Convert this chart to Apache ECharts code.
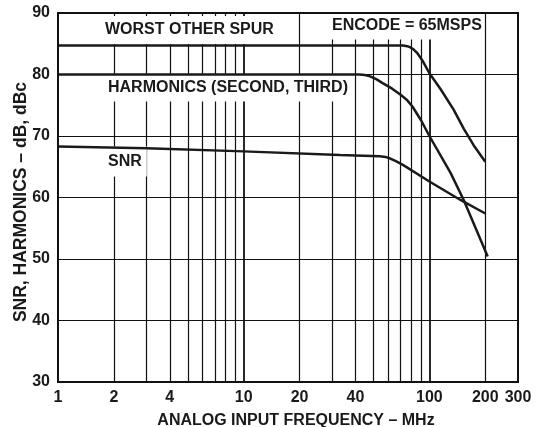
<!DOCTYPE html>
<html>
<head>
<meta charset="utf-8">
<script src="https://cdn.jsdelivr.net/npm/echarts@6/dist/echarts.min.js"></script>
<style>html,body{margin:0;padding:0;background:#fff}#c{width:538px;height:427px}</style>
</head>
<body>
<div id="c"></div>
<script>
var xTickLabels = [1, 2, 4, 10, 20, 40, 100, 200, 300];
var xGridMinor = [2, 3, 4, 5, 6, 7, 8, 9, 20, 30, 40, 50, 60, 70, 80, 90, 200];
var xGridMajor = [10, 100];
var spurData = [[1,84.7],[10,84.7],[40,84.7],[72,84.7],[76,84.6],[79,84.4],[82,84.1],[86,83.5],[92,82.2],[100,80.2],[115,77.6],[135,74.3],[153,71.2],[173,68.5],[200,65.8]];
var harmData = [[1,80],[10,80],[42,80],[45,79.9],[48,79.7],[52,79.2],[56,78.6],[63,77.7],[70,76.7],[76,75.8],[81,74.8],[90,72.6],[100,70],[130,64],[153,59.6],[206,50.4]];
var snrData = [[1,68.3],[3,68.0],[10,67.5],[33,66.9],[54,66.7],[58,66.6],[62,66.3],[66,65.9],[72,65.3],[100,62.6],[147,59.6],[200,57.4]];

var FONT = 'Liberation Sans, Arial, Helvetica, sans-serif';
var chart = echarts.init(document.getElementById('c'));
function boxText(text, x, y, pad) {
  return {
    type: 'text', z: 3, x: x, y: y,
    style: { text: text, fill: '#1a1a1a', font: 'bold 16px ' + FONT, align: 'left', verticalAlign: 'middle',
             backgroundColor: '#fff', padding: pad }
  };
}
var lineStyle = { color: '#1a1a1a', width: 2.5 };
chart.setOption({
  animation: false,
  backgroundColor: '#fff',
  grid: { left: 58, right: 20, top: 13, bottom: 45, outerBoundsMode: 'none', containLabel: false,
          show: true, borderColor: '#111', borderWidth: 2, z: 10 },
  xAxis: {
    type: 'log', logBase: 10, min: 1, max: 300,
    axisLine: { show: false },
    axisTick: { show: false },
    splitLine: { show: false },
    axisLabel: { customValues: xTickLabels, color: '#1a1a1a', fontSize: 16, fontWeight: 'bold', fontFamily: FONT, margin: 8, showMinLabel: true, showMaxLabel: true },
    name: 'ANALOG INPUT FREQUENCY \u2013 MHz', nameLocation: 'middle', nameGap: 31,
    nameTextStyle: { color: '#1a1a1a', fontSize: 16, fontWeight: 'bold', fontFamily: FONT, padding: [0, 0, 0, 16] }
  },
  yAxis: {
    type: 'value', min: 30, max: 90, interval: 10,
    axisLine: { show: false }, axisTick: { show: false },
    splitLine: { show: true, lineStyle: { color: '#111', width: 1.2 } },
    axisLabel: { color: '#1a1a1a', fontSize: 16, fontWeight: 'bold', fontFamily: FONT, margin: 8 },
    name: 'SNR, HARMONICS \u2013 dB, dBc', nameLocation: 'middle', nameGap: 28, nameMoveOverlap: false,
    nameTextStyle: { color: '#1a1a1a', fontSize: 17.5, fontWeight: 'bold', fontFamily: FONT, padding: [0, 9, 0, 0] }
  },
  series: [
    { type: 'line', data: spurData, showSymbol: false, smooth: false, lineStyle: lineStyle, z: 5,
      markLine: { silent: true, symbol: 'none', z: 1, label: { show: false },
        lineStyle: { color: '#111', width: 1.2, type: 'solid' },
        data: xGridMinor.map(function (v) { return { xAxis: v }; }).concat(
              xGridMajor.map(function (v) { return { xAxis: v, lineStyle: { width: 1.8 } }; })) } },
    { type: 'line', data: harmData, showSymbol: false, smooth: false, lineStyle: lineStyle, z: 5 },
    { type: 'line', data: snrData, showSymbol: false, smooth: false, lineStyle: lineStyle, z: 5 }
  ],
  graphic: [
    boxText('WORST OTHER SPUR', 100, 30, [6, 16, 6, 5]),
    boxText('HARMONICS (SECOND, THIRD)', 104, 88, [6, 3, 5, 4]),
    boxText('SNR', 104, 161.5, [7, 5, 7, 4]),
    boxText('ENCODE = 65MSPS', 326, 26, [6, 2, 5, 6])
  ]
});
</script>
</body>
</html>
